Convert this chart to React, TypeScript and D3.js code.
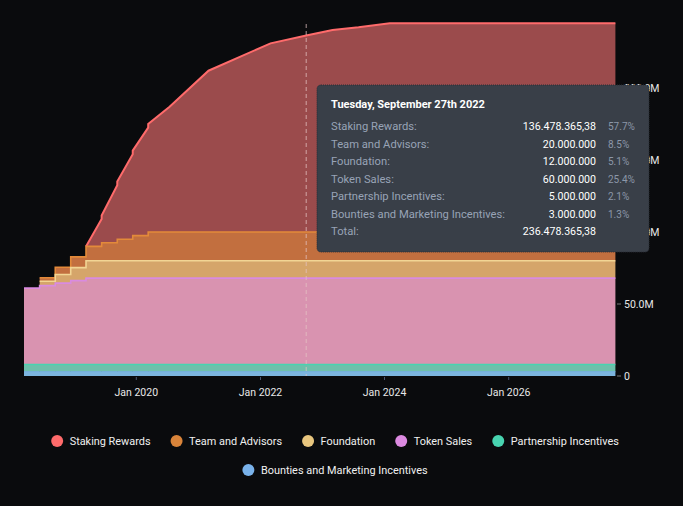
import React, { useMemo } from "react";
import * as d3 from "d3";

const W = 683;
const H = 506;

// ---- data (values in millions of tokens) ----
const seriesNames = [
  "Staking Rewards",
  "Team and Advisors",
  "Foundation",
  "Token Sales",
  "Partnership Incentives",
  "Bounties and Marketing Incentives",
];
const legendColors = ["#ff6b6b", "#d9843a", "#e8c67e", "#dc8ae0", "#48d4b0", "#79b2ea"];
const fillColors = ["#9b4b4c", "#c26f3f", "#d5a56a", "#d993b0", "#6ec0ab", "#7cb5de"];
const lineColors = ["#ff6b6b", "#e38a3a", "#f2d594", "#d98be0", "#47d4b0", "#7cb5e8"];

const vestingDates = [
  "2018-03-11", "2018-06-11", "2018-09-11", "2018-12-11", "2019-03-11",
  "2019-06-11", "2019-09-11", "2019-12-11", "2020-03-11",
];
const teamValues: (number | null)[] = [null, 2.5, 5, 7.5, 10, 12.5, 15, 17.5, 20];
const foundationValues: (number | null)[] = [null, 3, 6, 9, 12, 12, 12, 12, 12];
const tokenSalesValues = [53, 54.75, 56.5, 58.25, 60, 60, 60, 60, 60];
const partnershipValues = [5, 5, 5, 5, 5, 5, 5, 5, 5];
const bountiesValues = [3, 3, 3, 3, 3, 3, 3, 3, 3];

const stakingDates = [
  "2019-03-11", "2019-06-11", "2019-09-11", "2019-12-11", "2020-03-11", "2020-07-15",
  "2021-03-01", "2022-03-01", "2022-09-27", "2023-03-01", "2023-08-01", "2024-02-01", "2027-09-21",
];
const stakingValues = [0, 19, 40, 59, 75, 87, 112, 131, 136.47836538, 140.3, 142.2, 145, 145];

const domainDates = ["2018-03-11", "2027-09-21"];
const yTickValues = [0, 50, 100, 150, 200];
const hoverDate = "2022-09-27";
const tooltipTitle = "Tuesday, September 27th 2022";

const parse = d3.timeParse("%Y-%m-%d");
const FONT = "Roboto, 'Noto Sans', sans-serif";
const LEGEND_FS = 10.9;

function measure(text: string, font: string): number {
  const c = document.createElement("canvas").getContext("2d")!;
  c.font = font;
  return c.measureText(text).width;
}

export default function App() {
  const m = useMemo(() => {
    const x = d3.scaleTime()
      .domain(domainDates.map((d) => parse(d)!))
      .range([24, 615.4]);
    const y = d3.scaleLinear().domain([0, 250]).range([376, 16]);

    const keys = ["bounties", "partnership", "token", "foundation", "team"];
    const raw: Record<string, (number | null)[]> = {
      bounties: bountiesValues,
      partnership: partnershipValues,
      token: tokenSalesValues,
      foundation: foundationValues,
      team: teamValues,
    };
    const vDates = vestingDates.map((d) => parse(d)!);
    const rows: any[] = vDates.map((date, i) => {
      const r: any = { date, i };
      keys.forEach((k) => (r[k] = raw[k][i] ?? 0));
      return r;
    });
    const last = rows[rows.length - 1];
    rows.push({ ...last, date: x.domain()[1], i: rows.length - 1 });

    const stacked = d3.stack<any>().keys(keys)(rows);
    const area = d3.area<any>()
      .x((d) => x(d.data.date))
      .y0((d) => y(d[0]))
      .y1((d) => y(d[1]))
      .curve(d3.curveStepAfter);

    const layers = stacked.map((s, li) => {
      const k = keys[li];
      const line = d3.line<any>()
        .defined((d) => raw[k][d.data.i] != null)
        .x((d) => x(d.data.date))
        .y((d) => y(d[1]))
        .curve(d3.curveStepAfter);
      return { key: k, area: area(s)!, line: line(s)! };
    });

    // staking rewards on top of the vested layers
    const sumAt = (idx: number) => keys.reduce((a, k) => a + (raw[k][idx] ?? 0), 0);
    const idxAt = (t: Date) => d3.bisectRight(vDates, t) - 1;
    const sDates = stakingDates.map((d) => parse(d)!);
    const sScale = d3.scaleTime<number>().domain(sDates).range(stakingValues);
    const start = sDates[0];
    const allDates = Array.from(
      new Set([...sDates, ...vDates.filter((d) => d >= start)].map((d) => +d))
    ).sort((a, b) => a - b).map((t) => new Date(t));
    const pts: { date: Date; base: number; s: number }[] = [];
    allDates.forEach((d) => {
      const s = sScale(d);
      const isStep = vDates.some((v) => +v === +d);
      if (isStep && +d > +start) {
        pts.push({ date: d, base: sumAt(idxAt(d) - 1), s });
      }
      pts.push({ date: d, base: sumAt(idxAt(d)), s });
    });
    const sArea = d3.area<any>()
      .x((d) => x(d.date))
      .y0((d) => y(d.base))
      .y1((d) => y(d.base + d.s))(pts)!;
    const sLine = d3.line<any>()
      .x((d) => x(d.date))
      .y((d) => y(d.base + d.s))(pts)!;

    // tooltip values
    const hd = parse(hoverDate)!;
    const hi = idxAt(hd);
    const vals = [
      sScale(hd),
      teamValues[hi] ?? 0,
      foundationValues[hi] ?? 0,
      tokenSalesValues[hi],
      partnershipValues[hi],
      bountiesValues[hi],
    ].map((v) => v * 1e6);
    const total = d3.sum(vals);
    const loc = d3.formatLocale({ decimal: ",", thousands: ".", grouping: [3], currency: ["", ""] });
    const fmtInt = loc.format(",.0f");
    const fmtDec = loc.format(",.2f");
    const fmtV = (v: number) => (Math.abs(v - Math.round(v)) < 0.001 ? fmtInt(v) : fmtDec(v));

    // legend layout
    const lf = `${LEGEND_FS}px ${FONT}`;
    const items = seriesNames.map((n, i) => ({ n, i, w: 18.5 + measure(n, lf) }));
    const legendRows: (typeof items)[] = [];
    let cur: typeof items = [];
    let cw = 0;
    items.forEach((it) => {
      const add = cur.length ? it.w + 20 : it.w;
      if (cw + add > 620 && cur.length) {
        legendRows.push(cur);
        cur = [it];
        cw = it.w;
      } else {
        cur.push(it);
        cw += add;
      }
    });
    if (cur.length) legendRows.push(cur);
    const legend: { n: string; i: number; x: number; y: number }[] = [];
    legendRows.forEach((r, ri) => {
      const tw = d3.sum(r, (d) => d.w) + 20 * (r.length - 1);
      let sx = 335 - tw / 2;
      r.forEach((it) => {
        legend.push({ n: it.n, i: it.i, x: sx, y: 441 + ri * 29 });
        sx += it.w + 20;
      });
    });

    return {
      x, y, layers, sArea, sLine, hx: x(hd), vals, total, fmtV, legend,
      xTicks: x.ticks(d3.timeYear.every(2)!),
    };
  }, []);

  const { x, y } = m;
  const layerOrder = ["team", "foundation", "token", "partnership", "bounties"];
  const colorIdx: Record<string, number> = { team: 1, foundation: 2, token: 3, partnership: 4, bounties: 5 };

  return (
    <div style={{ position: "fixed", left: 0, top: 0, width: W, height: H }}>
      <svg width={W} height={H} style={{ display: "block", fontFamily: FONT }}>
        <rect width={W} height={H} fill="#0a0b0d" />
        <path d={m.sArea} fill={fillColors[0]} />
        {m.layers.map((l) => (
          <path key={l.key} d={l.area} fill={fillColors[colorIdx[l.key]]} />
        ))}
        <path d={m.sLine} fill="none" stroke={lineColors[0]} strokeWidth={2} />
        {layerOrder.map((k) => {
          const l = m.layers.find((d) => d.key === k)!;
          return (
            <path key={k} d={l.line} fill="none" stroke={lineColors[colorIdx[k]]} strokeWidth={k === "bounties" ? 1 : 1.6} />
          );
        })}
        {/* x axis */}
        {m.xTicks.map((t) => (
          <g key={+t} transform={`translate(${x(t)},0)`}>
            <line y1={377} y2={380} stroke="#4a5570" />
            <text y={392} textAnchor="middle" dominantBaseline="central" fontSize={10.5} fill="#e8e8e8">
              {d3.timeFormat("Jan %Y")(t)}
            </text>
          </g>
        ))}
        {/* y axis right */}
        {yTickValues.map((v) => (
          <g key={v} transform={`translate(0,${y(v)})`}>
            <line x1={617} x2={621} stroke="#777" />
            <text x={624} dominantBaseline="central" fontSize={10.5} fill="#e8e8e8">
              {v === 0 ? "0" : `${v.toFixed(1)}M`}
            </text>
          </g>
        ))}
        {/* hover line */}
        <line x1={m.hx} x2={m.hx} y1={24} y2={376} stroke="#e6c4c4" strokeOpacity={0.75} strokeDasharray="4,3" />
        {/* tooltip */}
        <g>
          <rect x={317} y={85} width={332} height={167} rx={4} fill="#393f48" stroke="#2a2e35" strokeDasharray="1,1" />
          <text x={331} y={104} dominantBaseline="central" fontSize={11} fontWeight={700} fill="#ffffff">
            {tooltipTitle}
          </text>
          {seriesNames.map((n, i) => (
            <g key={n} transform={`translate(0,${126.5 + i * 17.55})`}>
              <text x={331} dominantBaseline="central" fontSize={11.2} fill="#98a3b6">{n}:</text>
              <text x={596} textAnchor="end" dominantBaseline="central" fontSize={10.6} fill="#ffffff">
                {m.fmtV(m.vals[i])}
              </text>
              <text x={608} dominantBaseline="central" fontSize={10} fill="#8c97a9">
                {((m.vals[i] / m.total) * 100).toFixed(1)}%
              </text>
            </g>
          ))}
          <g transform={`translate(0,${126.5 + 6 * 17.55})`}>
            <text x={331} dominantBaseline="central" fontSize={11.2} fill="#98a3b6">Total:</text>
            <text x={596} textAnchor="end" dominantBaseline="central" fontSize={10.6} fill="#ffffff">
              {m.fmtV(m.total)}
            </text>
          </g>
        </g>
        {/* legend */}
        {m.legend.map((it) => (
          <g key={it.n} transform={`translate(${it.x},${it.y})`}>
            <circle cx={6} cy={0} r={6} fill={legendColors[it.i]} />
            <text x={18.5} dominantBaseline="central" fontSize={LEGEND_FS} fill="#f0f0f0">{it.n}</text>
          </g>
        ))}
      </svg>
    </div>
  );
}
